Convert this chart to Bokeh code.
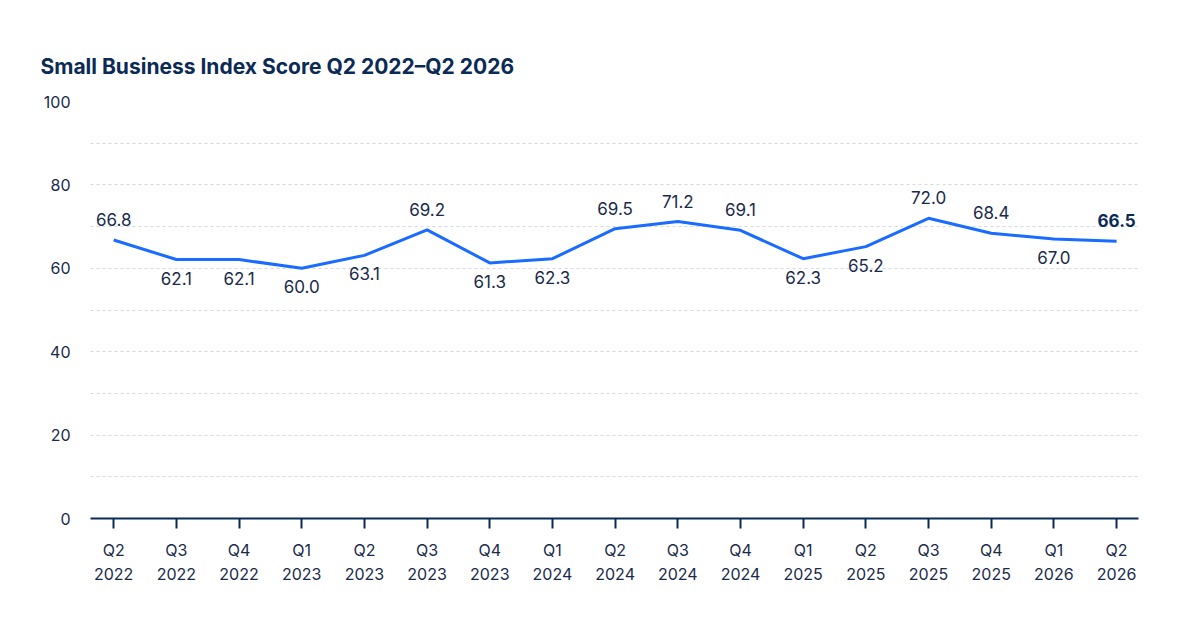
from bokeh.plotting import figure
from bokeh.models import ColumnDataSource, FixedTicker, SingleIntervalTicker, Range1d
from bokeh.core.properties import value
from bokeh.embed import file_html
from bokeh.resources import INLINE

quarters = ["Q2\n2022","Q3\n2022","Q4\n2022","Q1\n2023","Q2\n2023","Q3\n2023","Q4\n2023","Q1\n2024",
            "Q2\n2024","Q3\n2024","Q4\n2024","Q1\n2025","Q2\n2025","Q3\n2025","Q4\n2025","Q1\n2026","Q2\n2026"]
scores = [66.8,62.1,62.1,60.0,63.1,69.2,61.3,62.3,69.5,71.2,69.1,62.3,65.2,72.0,68.4,67.0,66.5]
label_above = [True,False,False,False,False,True,False,False,True,True,True,False,False,True,True,False,True]

NAVY = "#0b2a55"
FONT = "Inter"
xs = list(range(len(scores)))

p = figure(width=1164, height=604, output_backend="svg", toolbar_location=None,
           x_range=Range1d(-0.37, 16.35), y_range=Range1d(0, 100),
           min_border_left=90, min_border_right=26, min_border_top=101, min_border_bottom=86)
p.title.text = "Small Business Index Score Q2 2022\u2013Q2 2026"
p.title.text_font = FONT
p.title.text_font_size = "21px"
p.title.text_font_style = "bold"
p.title.text_color = NAVY
p.title.offset = -50
p.title.standoff = 46
p.outline_line_color = None

p.line(xs, scores, line_color="#1a6bff", line_width=3)

up = [i for i in xs if label_above[i]]
dn = [i for i in xs if not label_above[i]]
last = len(scores) - 1
src_up = ColumnDataSource(dict(x=[i for i in up if i != last], y=[scores[i] for i in up if i != last],
                               t=["%.1f" % scores[i] for i in up if i != last]))
src_dn = ColumnDataSource(dict(x=dn, y=[scores[i] for i in dn], t=["%.1f" % scores[i] for i in dn]))
common = dict(text="t", text_font=value(FONT), text_font_size="17px", text_color="#1a2a4a", text_align="center")
p.text(x="x", y="y", source=src_up, text_baseline="bottom", y_offset=-14, **common)
p.text(x="x", y="y", source=src_dn, text_baseline="top", y_offset=12, **common)
p.text(x=[last], y=[scores[last]], text=["%.1f" % scores[last]], text_baseline="bottom", y_offset=-14,
       text_font=value(FONT), text_font_size="17px", text_font_style="bold", text_color=NAVY, text_align="center")

p.xgrid.visible = False
p.ygrid.ticker = SingleIntervalTicker(interval=10)
p.ygrid.grid_line_color = "#d5d8dc"
p.ygrid.grid_line_dash = "3 3"

p.yaxis.ticker = FixedTicker(ticks=[0, 20, 40, 60, 80, 100])
p.yaxis.axis_line_color = None
p.yaxis.major_tick_line_color = None
p.yaxis.minor_tick_line_color = None
p.yaxis.major_label_text_font = FONT
p.yaxis.major_label_text_font_size = "16px"
p.yaxis.major_label_text_color = "#1a2a4a"
p.yaxis.major_label_standoff = 14

p.xaxis.ticker = FixedTicker(ticks=xs)
p.xaxis.major_label_overrides = {i: q for i, q in enumerate(quarters)}
p.xaxis.axis_line_color = NAVY
p.xaxis.axis_line_width = 2
p.xaxis.major_tick_line_color = NAVY
p.xaxis.major_tick_line_width = 2
p.xaxis.major_tick_in = 0
p.xaxis.major_tick_out = 10
p.xaxis.minor_tick_line_color = None
p.xaxis.major_label_text_font = FONT
p.xaxis.major_label_text_font_size = "16px"
p.xaxis.major_label_text_color = "#1a2a4a"
p.xaxis.major_label_standoff = 11

open("out.html", "w").write(file_html(p, INLINE))
